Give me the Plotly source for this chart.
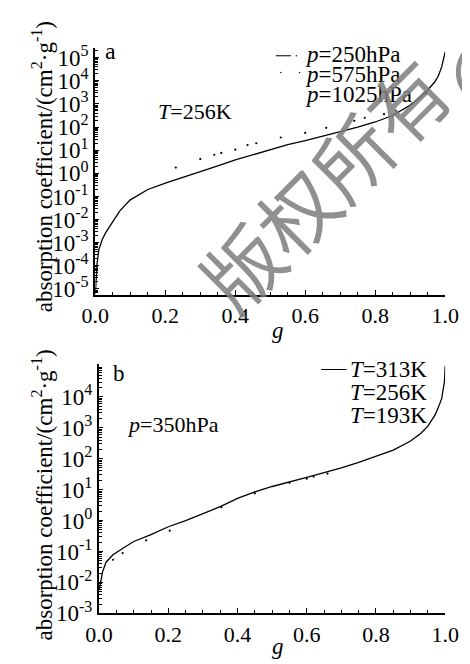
import plotly.graph_objects as go

W, H = 470, 664
def px(x): return x / W
def py(y): return 1 - y / H

# ---------------- data (panel a: T=256K) ----------------
g_a_250 = [0, 0.002, 0.005, 0.01, 0.02, 0.03, 0.05, 0.07, 0.1, 0.15, 0.2, 0.25, 0.3, 0.35,
           0.4, 0.45, 0.5, 0.55, 0.6, 0.65, 0.7, 0.75, 0.8, 0.85, 0.9, 0.93, 0.95, 0.97,
           0.98, 0.99, 0.995, 1.0]
k_a_250 = [6.3e-6, 2.5e-5, 1.3e-4, 5.0e-4, 1.4e-3, 2.8e-3, 8.7e-3, 2.4e-2, 7.1e-2, 0.20, 0.38,
           0.66, 1.15, 2.1, 3.8, 6.3, 10.5, 17.4, 26, 42, 63, 100, 166, 316, 890, 2000,
           4000, 8900, 15800, 40000, 89000, 178000]

g_a_575 = [0.23, 0.30, 0.34, 0.40, 0.46, 0.53, 0.66, 0.77, 0.86, 0.946]
k_a_575 = [1.78, 4.2, 6.3, 10.5, 20, 35.5, 93, 251, 500, 2800]

g_a_1025 = [0.36, 0.435, 0.60, 0.74, 0.825, 0.905]
k_a_1025 = [7.6, 16.6, 56, 186, 363, 1000]

# ---------------- data (panel b: p=350hPa) ----------------
g_b_313 = [0, 0.003, 0.01, 0.02, 0.04, 0.07, 0.1, 0.15, 0.2, 0.25, 0.3, 0.35, 0.4, 0.45, 0.5,
           0.55, 0.6, 0.65, 0.7, 0.75, 0.8, 0.85, 0.9, 0.93, 0.95, 0.97, 0.98, 0.99, 0.995,
           0.998, 1.0]
k_b_313 = [5.6e-3, 8.9e-3, 2.2e-2, 4.5e-2, 7.8e-2, 0.13, 0.21, 0.35, 0.63, 1.0, 1.66, 2.8,
           5.2, 8.5, 12.6, 18.2, 25, 35.5, 50, 76, 117, 190, 372, 660, 1120, 2500, 4470,
           8900, 20000, 31600, 100000]

g_b_256 = [0.04, 0.136, 0.353, 0.55, 0.62]
k_b_256 = [0.054, 0.23, 2.7, 16.6, 26.3]

g_b_193 = [0.068, 0.204, 0.45, 0.60, 0.66]
k_b_193 = [0.089, 0.47, 7.6, 22.4, 33]

x_ticks = [0, 0.2, 0.4, 0.6, 0.8, 1.0]
x_tick_text = ["0.0", "0.2", "0.4", "0.6", "0.8", "1.0"]
ya_exps = [-5, -4, -3, -2, -1, 0, 1, 2, 3, 4, 5]
yb_exps = [-3, -2, -1, 0, 1, 2, 3, 4]

legend_a = ["250", "575", "1025"]
legend_b = ["313", "256", "193"]

SERIF = "Times New Roman"

fig = go.Figure()
fig.add_trace(go.Scatter(x=g_a_250, y=k_a_250, mode="lines", line=dict(color="black", width=1.3),
                         xaxis="x", yaxis="y", showlegend=False))
fig.add_trace(go.Scatter(x=g_a_575, y=k_a_575, mode="markers", marker=dict(color="black", size=2.2),
                         xaxis="x", yaxis="y", showlegend=False))
fig.add_trace(go.Scatter(x=g_a_1025, y=k_a_1025, mode="markers", marker=dict(color="black", size=2.2),
                         xaxis="x", yaxis="y", showlegend=False))
fig.add_trace(go.Scatter(x=g_b_313, y=k_b_313, mode="lines", line=dict(color="black", width=1.3),
                         xaxis="x2", yaxis="y2", showlegend=False))
fig.add_trace(go.Scatter(x=g_b_256, y=k_b_256, mode="markers", marker=dict(color="black", size=2.2),
                         xaxis="x2", yaxis="y2", showlegend=False))
fig.add_trace(go.Scatter(x=g_b_193, y=k_b_193, mode="markers", marker=dict(color="black", size=2.2),
                         xaxis="x2", yaxis="y2", showlegend=False))

def minor_vals(lo, hi):
    v = []
    for e in range(lo, hi + 1):
        for m in range(2, 10):
            v.append(m * 10.0 ** e)
    return v

def xaxis(domain, anchor):
    return dict(domain=domain, anchor=anchor, range=[0, 1.0], showline=True, linecolor="black",
                linewidth=1.8, ticks="inside", ticklen=5, tickwidth=1.2, tickcolor="black",
                tickvals=x_ticks, ticktext=x_tick_text, showgrid=False, zeroline=False,
                tickfont=dict(family=SERIF, size=22, color="black"),
                minor=dict(ticks="inside", ticklen=3, tickwidth=1, tickcolor="black", dtick=0.05,
                           showgrid=False))

def yaxis(domain, anchor, rng, exps):
    return dict(domain=domain, anchor=anchor, type="log", range=rng, showline=True,
                linecolor="black", linewidth=2.2, ticks="inside", ticklen=4, tickwidth=1.2,
                tickcolor="black", tickvals=[10.0 ** e for e in exps],
                ticktext=["10<sup>%d</sup>" % e for e in exps], showgrid=False, zeroline=False,
                tickfont=dict(family=SERIF, size=23, color="black"),
                minor=dict(ticks="inside", ticklen=2.5, tickwidth=1, tickcolor="black",
                           tickvals=minor_vals(exps[0] - 1, exps[-1]), showgrid=False))

ann = []
def text(x, y, s, size, xanchor="center", angle=0, color="black", family=SERIF):
    ann.append(dict(x=px(x), y=py(y), xref="paper", yref="paper", text=s, showarrow=False,
                    xanchor=xanchor, yanchor="middle", textangle=angle,
                    font=dict(family=family, size=size, color=color)))

ytitle = "absorption coefficient/(cm<sup>2</sup>·g<sup>-1</sup>)"
text(22, 157, ytitle, 23, angle=-90)
text(22, 495, ytitle, 23, angle=-90)
text(272, 326, "<i>g</i>", 23)
text(272, 651, "<i>g</i>", 23)
text(94, 38, "a", 24)
text(103, 370, "b", 23)
text(143, 100, "<i>T</i>=256K", 22, xanchor="left")
text(110, 423, "<i>p</i>=350hPa", 22, xanchor="left")
for i, p in enumerate(legend_a):
    text(299, 42 + i * 20.5, "<i>p</i>=%shPa" % p, 23, xanchor="left")
for i, t in enumerate(legend_b):
    text(347, 366 + i * 23.5, "<i>T</i>=%sK" % t, 23, xanchor="left")

# watermark
text(320, 174, "版权所有", 78, angle=-45, color="rgba(125,125,125,0.85)",
     family="Noto Sans CJK SC")
text(495, 55, "©", 100, angle=-45, color="rgba(125,125,125,0.85)", family="Noto Sans CJK SC")

shapes = [
    dict(type="line", xref="paper", yref="paper", x0=px(270), x1=px(286), y0=py(43), y1=py(43),
         line=dict(color="black", width=1)),
    dict(type="circle", xref="paper", yref="paper", x0=px(291), x1=px(292.5), y0=py(43.7),
         y1=py(42.3), fillcolor="black", line=dict(width=0)),
    dict(type="circle", xref="paper", yref="paper", x0=px(274.5), x1=px(276), y0=py(61),
         y1=py(59.5), fillcolor="black", line=dict(width=0)),
    dict(type="circle", xref="paper", yref="paper", x0=px(294.5), x1=px(296), y0=py(61),
         y1=py(59.5), fillcolor="black", line=dict(width=0)),
    dict(type="line", xref="paper", yref="paper", x0=px(318), x1=px(345), y0=py(366), y1=py(366),
         line=dict(color="black", width=1)),
]

fig.update_layout(
    width=W, height=H, margin=dict(l=0, r=0, t=0, b=0),
    paper_bgcolor="white", plot_bgcolor="white", showlegend=False,
    font=dict(family=SERIF),
    xaxis=xaxis([px(78), px(450)], "y"),
    yaxis=yaxis([py(289), py(35)], "x", [-5.25, 5.42], ya_exps),
    xaxis2=xaxis([px(82), px(450)], "y2"),
    yaxis2=yaxis([py(617), py(360)], "x2", [-3, 5.07], yb_exps),
    annotations=ann, shapes=shapes,
)

fig.write_html("out.html")
